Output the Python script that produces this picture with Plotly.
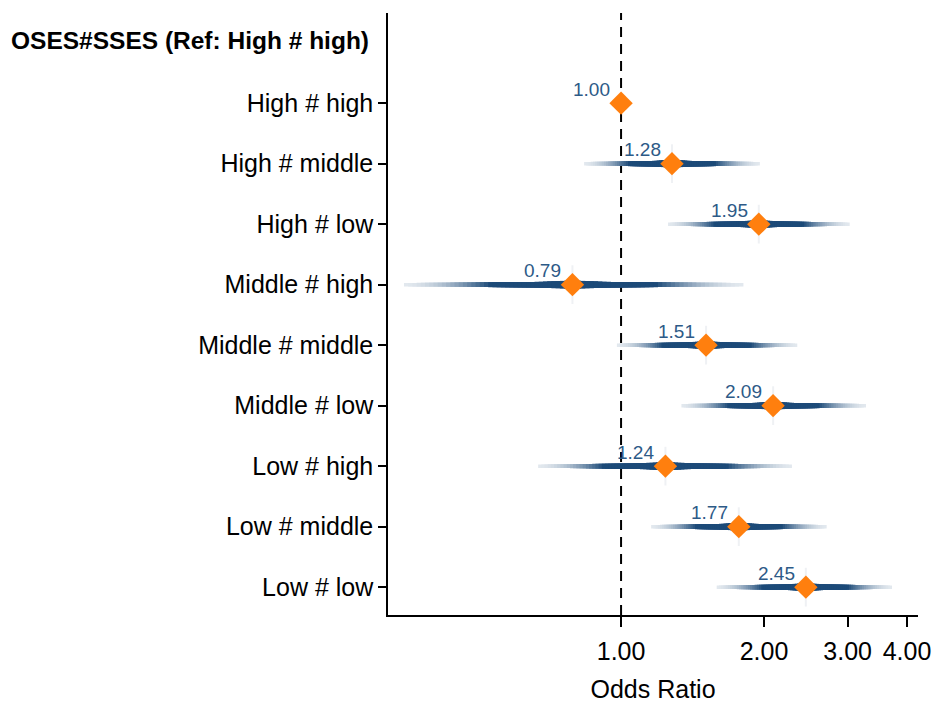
import numpy as np
import plotly.graph_objects as go

header = "OSES#SSES (Ref: High # high)"
categories = ["High # high", "High # middle", "High # low",
              "Middle # high", "Middle # middle", "Middle # low",
              "Low # high", "Low # middle", "Low # low"]
odds_ratio = [1.00, 1.28, 1.95, 0.79, 1.51, 2.09, 1.24, 1.77, 2.45]
ci_lower = [None, 0.836, 1.256, 0.349, 0.98, 1.34, 0.669, 1.157, 1.59]
ci_upper = [None, 1.96, 3.03, 1.81, 2.35, 3.28, 2.29, 2.71, 3.72]
x_ticks = [1, 2, 3, 4]
x_tick_labels = ["1.00", "2.00", "3.00", "4.00"]

FONT = "Liberation Sans, Arial, sans-serif"
dark = np.array([0x1c, 0x4a, 0x78])
light = np.array([0xe2, 0xe8, 0xee])

fig = go.Figure()

ypos = list(range(len(categories)))

# faint vertical glow behind markers
gx, gy = [], []
for i, (o, lo) in enumerate(zip(odds_ratio, ci_lower)):
    if lo is None:
        continue
    gx += [o, o, None]
    gy += [i - 0.32, i + 0.32, None]
fig.add_trace(go.Scatter(x=gx, y=gy, mode="lines",
                         line=dict(color="rgba(232,235,239,0.7)", width=2),
                         hoverinfo="skip", showlegend=False))

N = 40
for k in range(N):
    f = 1 - k / N
    t = min(1.0, max(0.0, (1 - f) / 0.5)) ** 1.6
    col = light + (dark - light) * t
    color = "rgb(%d,%d,%d)" % tuple(col.round().astype(int))
    width = 3.5 + 1.5 * t + 3.5 * max(0.0, (0.28 - f) / 0.28)
    xs, ys = [], []
    for i, (o, lo, hi) in enumerate(zip(odds_ratio, ci_lower, ci_upper)):
        if lo is None:
            continue
        lo_k = np.exp(np.log(o) - f * (np.log(o) - np.log(lo)))
        hi_k = np.exp(np.log(o) + f * (np.log(hi) - np.log(o)))
        xs += [lo_k, hi_k, None]
        ys += [i, i, None]
    fig.add_trace(go.Scatter(x=xs, y=ys, mode="lines",
                             line=dict(color=color, width=width),
                             hoverinfo="skip", showlegend=False))

fig.add_trace(go.Scatter(x=odds_ratio, y=ypos, mode="markers",
                         marker=dict(symbol="diamond", size=18, color="#ff7f0e",
                                     line=dict(width=0)),
                         showlegend=False))

for i, o in enumerate(odds_ratio):
    fig.add_annotation(x=np.log10(o), y=i, text="%.2f" % o, showarrow=False,
                       xanchor="right", yanchor="middle", xshift=-9, yshift=14,
                       font=dict(family=FONT, size=19, color="#2d5a87"))

fig.add_annotation(x=0, xref="paper", xanchor="right", xshift=-17,
                   y=-1, yref="y", yanchor="middle", yshift=2, showarrow=False,
                   text="<b>" + header + "</b>",
                   font=dict(family=FONT, size=24.5, color="black"))

fig.add_shape(type="line", x0=1, x1=1, xref="x", y0=0, y1=1, yref="paper",
              line=dict(color="black", width=2, dash="10px,7px"), layer="below")

fig.update_layout(
    width=933, height=703,
    margin=dict(l=388, r=15, t=13, b=88),
    paper_bgcolor="white", plot_bgcolor="white",
    font=dict(family=FONT, size=25, color="black"),
    xaxis=dict(type="log", range=[np.log10(0.323), np.log10(4.22)],
               tickvals=x_ticks, ticktext=x_tick_labels, automargin=False,
               ticks="outside", ticklen=10, tickwidth=1.5, tickcolor="black",
               ticklabelstandoff=3,
               showline=True, linecolor="black", linewidth=1.5,
               showgrid=False, zeroline=False,
               title=dict(text="Odds Ratio", standoff=24,
                          font=dict(family=FONT, size=25)),
               tickfont=dict(family=FONT, size=25)),
    yaxis=dict(range=[8.46, -1.49], tickvals=ypos, ticktext=categories,
               automargin=False,
               ticks="outside", ticklen=8, tickwidth=1.5, tickcolor="black",
               showline=True, linecolor="black", linewidth=1.5,
               showgrid=False, zeroline=False,
               tickfont=dict(family=FONT, size=25)),
)

fig.write_html("out.html", config={"displayModeBar": False},
               post_script="document.body.style.margin='0px';"
                           "document.body.style.overflow='hidden';")
